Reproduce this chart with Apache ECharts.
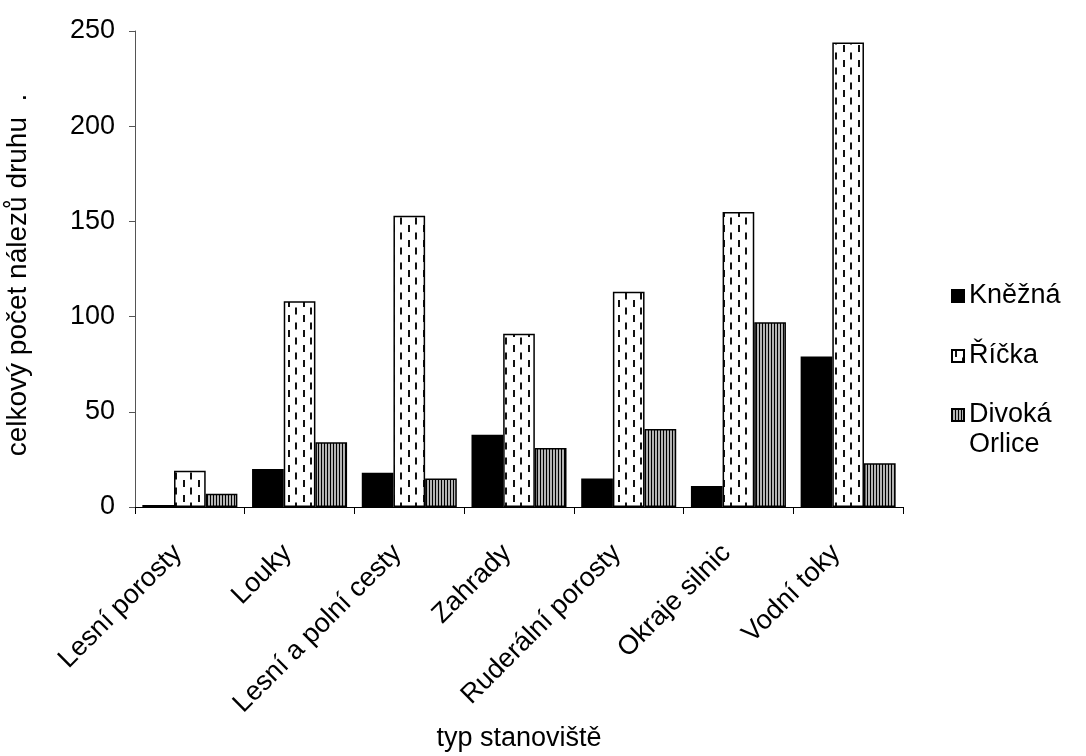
<!DOCTYPE html>
<html>
<head>
<meta charset="utf-8">
<script src="https://cdn.jsdelivr.net/npm/echarts@6/dist/echarts.min.js"></script>
<style>
html,body{margin:0;padding:0;background:#fff;}
#chart{width:1086px;height:756px;}
</style>
</head>
<body>
<div id="chart"></div>
<script>
const categories = ['Lesní porosty','Louky','Lesní a polní cesty','Zahrady','Ruderální porosty','Okraje silnic','Vodní toky'];
const kneznaValues = [1, 20, 18, 38, 15, 11, 79];
const rickaValues = [19, 108, 153, 91, 113, 155, 244];
const divokaValues = [7, 34, 15, 31, 41, 97, 23];
const yTicks = [0, 50, 100, 150, 200, 250];
const seriesNames = ['Kněžná', 'Říčka', 'Divoká Orlice'];

function dashPattern() {
  const c = document.createElement('canvas');
  c.width = 15; c.height = 15;
  const g = c.getContext('2d');
  g.fillStyle = '#fff'; g.fillRect(0,0,15,15);
  g.fillStyle = '#111';
  g.fillRect(3,0,2,7);
  g.fillRect(10,7.5,2,7);
  return c;
}
function stripePattern() {
  const c = document.createElement('canvas');
  c.width = 3; c.height = 4;
  const g = c.getContext('2d');
  g.fillStyle = '#b4b4b4'; g.fillRect(0,0,3,4);
  g.fillStyle = '#000'; g.fillRect(0,0,1,4);
  return c;
}

const FONT = 'Liberation Sans, Arial, sans-serif';
const FS = 27;
const chart = echarts.init(document.getElementById('chart'));
const fills = ['#000', {image: dashPattern(), repeat: 'repeat'}, {image: stripePattern(), repeat: 'repeat'}];
const datasets = [kneznaValues, rickaValues, divokaValues];
const legendText = {fontFamily: FONT, fontSize: FS, color: '#000', lineHeight: 30};

chart.setOption({
  backgroundColor: '#fff',
  animation: false,
  grid: {left: 135, top: 31, width: 768, height: 476, containLabel: false, outerBoundsMode: 'none'},
  legend: [{
    orient: 'vertical',
    left: 946,
    top: 276,
    icon: 'rect',
    itemWidth: 12,
    itemHeight: 12,
    itemGap: 30,
    data: seriesNames.slice(0, 2),
    textStyle: legendText
  }, {
    orient: 'vertical',
    left: 946,
    top: 365,
    icon: 'rect',
    itemWidth: 12,
    itemHeight: 12,
    data: seriesNames.slice(2),
    formatter: n => '\n' + n.replace(' ', '\n'),
    textStyle: legendText
  }],
  xAxis: {
    type: 'category',
    data: categories,
    axisLine: {lineStyle: {color: '#000', width: 1}},
    axisTick: {show: true, length: 7, lineStyle: {color: '#000'}},
    axisLabel: {rotate: 45, margin: 30, padding: [0, 17, 0, 0], fontFamily: FONT, fontSize: FS, color: '#000', interval: 0},
    name: 'typ stanoviště',
    nameLocation: 'middle',
    nameGap: 213,
    nameTextStyle: {fontFamily: FONT, fontSize: FS, color: '#000'}
  },
  yAxis: {
    type: 'value',
    min: yTicks[0],
    max: yTicks[yTicks.length - 1],
    interval: 50,
    splitLine: {show: false},
    axisLine: {show: true, lineStyle: {color: '#555', width: 1}},
    axisTick: {show: true, length: 6, lineStyle: {color: '#555'}},
    axisLabel: {margin: 20, fontFamily: FONT, fontSize: FS, color: '#000'},
    name: 'celkový počet nálezů druhu  .',
    nameLocation: 'middle',
    nameGap: 103,
    nameRotate: 90,
    nameTextStyle: {fontFamily: FONT, fontSize: 28, color: '#000', padding: [0, 12, 0, 0]}
  },
  series: seriesNames.map((name, i) => ({
    name: name,
    type: 'bar',
    data: datasets[i],
    barGap: '0%',
    barCategoryGap: '13.4%',
    itemStyle: {color: fills[i], borderColor: '#000', borderWidth: 1.5}
  }))
});
</script>
</body>
</html>
